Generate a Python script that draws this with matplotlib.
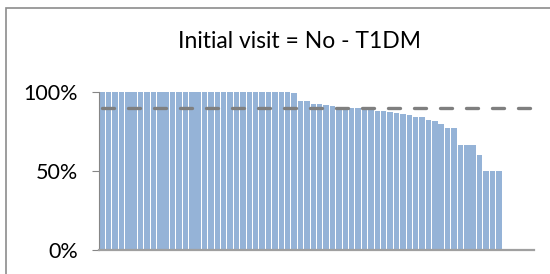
import numpy as np
import matplotlib
matplotlib.use("Agg")
import matplotlib.pyplot as plt
from matplotlib.patches import Rectangle

# share of visits per clinic (sorted), last categories empty
rates = ([1.0] * 30 + [0.99, 0.943, 0.943, 0.92, 0.92, 0.915, 0.909, 0.90, 0.90,
         0.894, 0.894, 0.888, 0.888, 0.879, 0.879, 0.869, 0.863, 0.859, 0.852,
         0.841, 0.841, 0.82, 0.814, 0.799, 0.771, 0.771, 0.666, 0.666, 0.666,
         0.598, 0.5, 0.5, 0.5])
n_categories = 68
target = 0.9
y_ticks = [0, 0.5, 1.0]
y_labels = ["0%", "50%", "100%"]
title = "Initial visit = No - T1DM"

plt.rcParams['font.family'] = ['Lato', 'DejaVu Sans']

fig = plt.figure(figsize=(5.5, 2.74), dpi=100)
ax = fig.add_axes([99 / 550, 24 / 274, (534 - 99) / 550, (250 - 91.7) / 274])

vals = np.full(n_categories, np.nan)
vals[:len(rates)] = rates
x = np.arange(n_categories)
ax.bar(x, vals, width=0.86, color="#95b3d7")
ax.plot(x, np.full(n_categories, target), color="#7f7f7f", lw=2.4,
        dashes=(3.6, 4.2), dash_capstyle="round")

ax.set_xlim(-0.5, n_categories - 0.5)
ax.set_ylim(0, 1)
ax.set_xticks([])
ax.set_yticks(y_ticks)
ax.set_yticklabels(y_labels, fontsize=15.5)
ax.tick_params(axis='y', length=5, color="#868686", pad=10)
for s in ["top", "right"]:
    ax.spines[s].set_visible(False)
ax.spines["left"].set_color("#868686")
ax.spines["bottom"].set_color("#a0a0a0")
ax.spines["bottom"].set_linewidth(1.6)

# chart border (left and top edges visible)
fig.patches.append(Rectangle((6 / 550, -0.1), 1.2, 1.1 - 8.5 / 274,
                             transform=fig.transFigure, fill=False,
                             edgecolor="#8c8c8c", lw=1.2))

fig.text(300 / 550, 1 - 42 / 274, title, ha="center", va="center", fontsize=16.5)

fig.savefig("out.png", dpi=100)
